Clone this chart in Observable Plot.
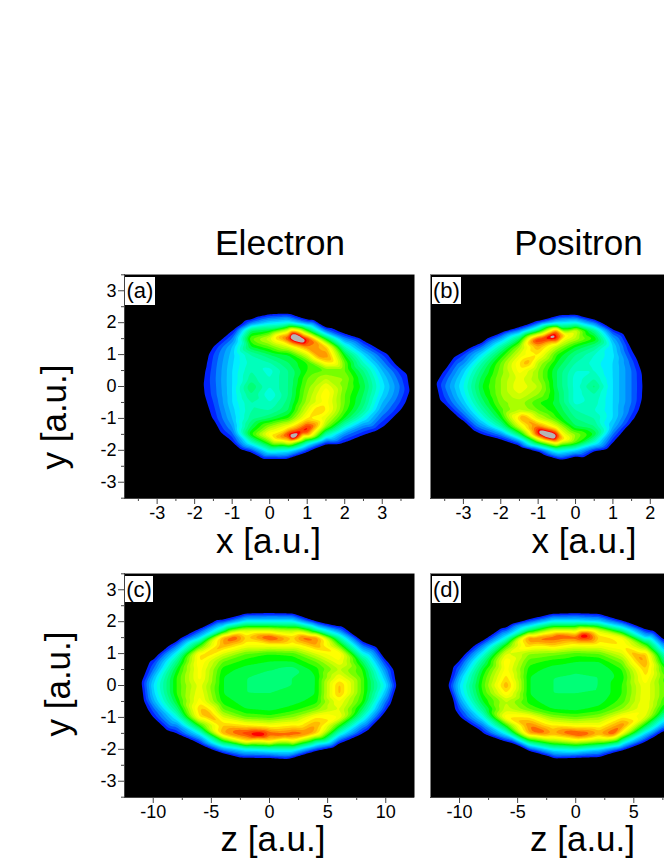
<!DOCTYPE html>
<html>
<head>
<meta charset="utf-8">
<script src="https://cdn.jsdelivr.net/npm/d3@7"></script>
<script src="https://cdn.jsdelivr.net/npm/@observablehq/plot@0.6"></script>
<style>
html,body{margin:0;padding:0;background:#fff;overflow:hidden;width:664px;height:860px}
#page{position:relative;width:664px;height:860px;overflow:hidden;font-family:"Liberation Sans",Arial,sans-serif;color:#000}
#page svg{position:absolute;background:transparent;overflow:visible}
.t{position:absolute;white-space:nowrap;line-height:.75;transform:translate(-50%,-50%)}
.r{transform:translate(-50%,-50%) rotate(-90deg)}
.box{position:absolute;background:#fff;font-size:22px;line-height:27px;text-align:center}
</style>
</head>
<body>
<div id="page"></div>
<script>
// Density levels; each list is one column, from y = 2.5 down to y = -2.5.
const yRows = [2.5,2.25,2,1.75,1.5,1.25,1,.75,.5,.25,0,-.25,-.5,-.75,-1,-1.25,-1.5,-1.75,-2,-2.25,-2.5];

const xColsA = [-2,-1.5,-1,-.5,0,.5,1,1.5,2,2.5,3,3.5,4];
const levelsA = [
[-3,-3,-3,-3,-3,-3,-2,-1.5,-1,-.6,-.4,-.6,-1,-1.5,-2,-3,-3,-3,-3,-3,-3],
[-3,-3,-3,-3,-1,1,2,2.3,2.5,2.6,2.5,2.4,2,1.6,1.2,-.5,-2,-3,-3,-3,-3],
[-3,-3,-2,1,3,5,5.5,5.8,6,6,6,6,6,5.5,5,4,2.5,.8,-2,-3,-3],
[-3,-2,3,11,14,12,9,8.5,9,9.5,11,10,9,9,9.5,11,13,8,2,-2,-3],
[-3,1.2,6,12,17,14,11,9,7.5,8,8,7,8,9,11,15,19,14,8,1.2,-3],
[-3,1.5,7,17,24,17,12,11,10,10,10,10,10.5,11,13,18,24.5,18,7,.9,-3],
[-3,-2,3,13,24,22,17,13,13,14,14.5,15,15.5,17,19,24,22,9,1.5,-3,-3],
[-3,-3,-2,3,12,20,22,19,14,16,18,19,18.5,19,17,15,9,2,-2,-3,-3],
[-3,-3,-3,-.5,3.5,8,12,14,14,15,14.5,14,14,13.5,12,8,3.5,1.1,-3,-3,-3],
[-3,-3,-3,-3,.2,3,6,8,10,11,11.5,11,10.5,9.5,7,3.5,1.2,-1.5,-3,-3,-3],
[-3,-3,-3,-3,-3,-.5,2,3.5,5,6,6.5,6,5,4,2.5,1.3,-1,-3,-3,-3,-3],
[-3,-3,-3,-3,-3,-3,-2,-.5,1.3,2.2,2.8,2.5,1.8,.9,-1,-2,-3,-3,-3,-3,-3],
[-3,-3,-3,-3,-3,-3,-3,-3,-2,-1.5,-.8,-1,-1.5,-2,-3,-3,-3,-3,-3,-3,-3]
];
const peaksA = [[.62,1.6,28],[.73,1.53,29],[.82,1.46,28],[.62,-1.59,28],[.95,1.38,24.5],[.85,-1.4,24.7],[1.05,-1.3,24.5],[1.3,-.75,20.5],[1.35,.95,22],[1.6,.85,21],[.25,1.55,21],[.2,-1.6,21]];
const edgeA = [[-.92,1.81],[-.34,2.18],[.33,2.28],[1.17,2.07],[2.42,1.5],[3.13,1.03],[3.66,.4],[3.73,-.13],[3.3,-.96],[2.86,-1.38],[1.88,-1.8],[1,-2.06],[.46,-2.27],[-.16,-2.27],[-.78,-1.96],[-1.32,-1.43],[-1.63,-.65],[-1.76,.08]];

const xColsB = [-4,-3.5,-3,-2.5,-2,-1.5,-1,-.5,0,.5,1,1.5,2];
const levelsB = [
[-3,-3,-3,-3,-3,-3,-3,-3,-2,-1.5,-1,-1.5,-2,-3,-3,-3,-3,-3,-3,-3,-3],
[-3,-3,-3,-3,-3,-3,-3,-1,1.1,2.3,3,2.3,1.4,-.5,-2,-3,-3,-3,-3,-3,-3],
[-3,-3,-3,-3,-3,-1,2,3.5,5.5,6.5,7,6.5,5.5,4,1.8,-1,-3,-3,-3,-3,-3],
[-3,-3,-3,-3,-1,3,6.5,9,10.5,11.5,12,11.5,10.5,9,7,4,1,-2,-3,-3,-3],
[-3,-3,-3,-.5,4.5,9,12,14,14.5,15,15,15,14.5,13.5,12,9,3.5,-.5,-3,-3,-3],
[-3,-3,-2,3.5,11,15,17,19,18.5,17.5,18,17,15.5,16,20,17,11,3,-2,-3,-3],
[-3,-3,2,11,24,21,19,16,15,15,16,15,13,14,16.5,22,24.5,13,1.5,-3,-3],
[-3,0,6,22,24.5,16,13,12,11,11,11,11.5,11.5,12,13,17,24.5,20,8,1.2,-3],
[-3,.8,7,17,16,12,10,9,8,7.5,7.5,7.5,7.5,9,10,11,15,14,6,-.5,-3],
[-3,-2,3,10,13,10,8,7.5,8,9,10.5,9,8.5,8,9,10,12,8,1.5,-3,-3],
[-3,-3,-2,1.5,4.5,6,6.3,6,6,6,6,6,6,6,6,5,3,1,-2,-3,-3],
[-3,-3,-3,-3,-2,.6,1.5,2.5,3,3,3,3,3,2.5,1.5,-.3,-2,-3,-3,-3,-3],
[-3,-3,-3,-3,-3,-3,-2,-1.5,-1,-.6,-.45,-.6,-1,-1.5,-2,-3,-3,-3,-3,-3,-3]
];
const peaksB = [[-.62,1.57,27],[-.85,-1.47,28],[-.71,-1.54,29],[-.58,-1.6,28],[-1.3,.75,21],[-1.05,1.45,24.7],[-.85,1.5,24.7],[-1,-1.35,24.5],[-1.45,-.95,21.5],[-.25,1.6,19],[-.3,-1.65,19.5]];
const edgeB = [[-3.26,.92],[-2.37,1.5],[-1.03,2.07],[1.29,1.65],[1.65,.82],[1.47,-1.17],[.85,-1.96],[.22,-2.22],[-1.47,-1.9],[-2.72,-1.38],[-3.62,-.44],[-3.72,.1],[1.79,0],[-.4,2.23],[-.36,-2.29]];

const zColsC = [-12,-10,-8,-6,-4,-2,0,2,4,6,8,10,12];
const levelsC = [
[-4,-4,-4,-4,-4,-4,-4,-4,-4,-4,-4,-4,-4,-4,-4,-4,-4,-4,-4,-4,-4],
[-3,-3,-3,-3,-3,-3,-1,1.5,3,5,6,5.5,4.5,2.5,1,-2,-3,-3,-3,-3,-3],
[-3,-3,-3,-3,-1,3,7,10,12,13,13,13,12,10,7,3.5,1,-3,-3,-3,-3],
[-3,-3,-3,1.5,6,13,19,19,18.5,18.5,17.5,18,18.5,20,19,13,7,2,-2,-3,-3],
[-3,-2,2,9,21,21,17,14,12.5,12,12,12,12.5,14,17,20,21,12,4,-2,-3],
[-3,1,7,16,20,18,14,12.5,11.5,11,11,11,11.5,12,14,19,24,19,7,1.2,-3],
[-3,1.3,7,16,24,18,13,12,11,10.8,10.8,11,11.3,11.7,13.5,18,23,19,8,1.3,-3],
[-3,1,7,15,20,18,13.5,12,10.5,11,11,11.3,11.6,12.5,15,19,23,18,8,1.2,-3],
[-3,-3,1,9,22,21,17,14,12.5,12,12,12,12.5,14.5,19,21,20,10,2,-3,-3],
[-3,-3,-2,3,9,14,19,18,16,18,20.5,20.5,18,17,18,13,8,2,-2,-3,-3],
[-3,-3,-3,-3,-1,3,7,11,13,13.5,13.5,13.5,13,11,8,4,1,-2,-3,-3,-3],
[-3,-3,-3,-3,-3,-3,-1.5,1.5,3.5,5,6.5,5,3,1.5,-1,-2,-3,-3,-3,-3,-3],
[-4,-4,-4,-4,-4,-4,-4,-4,-4,-4,-4,-4,-4,-4,-4,-4,-4,-4,-4,-4,-4]
];
const peaksC = [[-.8,-1.54,26],[-3.1,1.5,23.5],[3,1.5,23],[-5.4,-.9,21.5],[-5.8,.9,20],[3.2,-1.5,22.5],[1.4,-1.55,23]];
const edgeC = [[-10.26,.78],[-7.7,1.46],[-4.5,2.04],[6.07,1.88],[9.2,1.2],[10.9,0],[10.4,-.57],[8.4,-1.41],[5.5,-1.93],[1.5,-2.3],[-2.5,-2.25],[-6,-1.83],[-8.8,-1.41],[-10.8,-.47],[-11,.1]];

const zColsD = [-12,-10,-8,-6,-4,-2,0,2,4,6,8];
const levelsD = [
[-4,-4,-4,-4,-4,-4,-4,-4,-4,-4,-4,-4,-4,-4,-4,-4,-4,-4,-4,-4,-4],
[-3,-3,-3,-3,-3,-3,-1,1.2,3,5,6,5.5,4,2.2,.7,-2,-3,-3,-3,-3,-3],
[-3,-3,-3,-3,-.5,3.5,7,10,12,13,13.5,13,12,10,7,3.5,.8,-2,-3,-3,-3],
[-3,-3,-2,2,7,13,17,19,18.5,19.5,21,19,16,16.5,19,13,7,1,-2.5,-3,-3],
[-3,-2,2.5,10,22,20,15,13.5,12.5,12,12,12,12.5,14,19,22,21,11,2,-3,-3],
[-3,.8,7,16,23,20,14.5,12.5,11.5,11,11,11,11.2,12,15,19,21,15,7,.9,-3],
[-3,1.2,7,16,23,18,13.5,12,11.2,10.8,10.8,11,11.3,11.7,14,18,24,17,8,1.2,-3],
[-3,.8,6,16,20,18,14,12,11,11,11,11,11.5,12.5,15,18,21,15,6,.8,-3],
[-3,-3,1.5,9,18,19,17,14.5,13,12.5,13,13,13.5,15,19,22,18,9,1.5,-3,-3],
[-3,-3,-2,1,6,14,20,21,20,19,18,18,18,18,17,12,6,1,-2,-3,-3],
[-3,-3,-3,-3,-1,1.5,5,8,11,12.5,13,13,12,10,6,2,-1,-3,-3,-3,-3]
];
const peaksD = [[.7,1.57,26],[-1.5,1.55,23.5],[-3.5,1.45,22.5],[.3,-1.53,24],[-3.2,-1.45,23.5],[3.2,-1.5,23.5],[5.4,.9,21.5]];
const edgeD = [[-10.95,0],[-9.95,.8],[-6.35,1.8],[-10.5,-.45],[-8.2,-1.39],[-5.3,-1.8],[-1.9,-2.28],[2.1,-2.22],[6.7,-1.6],[6.7,1.7]];

const levelThresholds = d3.range(1,26);
const levelColors = ["#000000","#0022ff","#0055ff","#0088ff","#00aaff","#00ccff","#00eeff","#00ffdd","#00ffbb","#00ff99","#00ff77","#00ff44","#00ff00","#44ff00","#77ff00","#aaff00","#ccff00","#eeff00","#ffff00","#ffdd00","#ffbb00","#ff9900","#ff6600","#ff4400","#ff0000","#b4b4b4"];

const yMajor = [-3,-2,-1,0,1,2,3];
const yMinor = [-3.5,-2.5,-1.5,-.5,.5,1.5,2.5,3.5];
const xMajor = [-3,-2,-1,0,1,2,3];
const xMinor = [-3.5,-2.5,-1.5,-.5,.5,1.5,2.5,3.5];
const zMajor = [-10,-5,0,5,10];
const zMinor = [-12.5,-7.5,-2.5,2.5,7.5,12.5];

const page = document.getElementById("page");
const points = (cols, levels, peaks, edge) =>
  cols.flatMap((x,i) => yRows.map((y,j) => ({x, y, v: levels[i][j]})))
      .concat(peaks.map(([x,y,v]) => ({x,y,v})))
      .concat(edge.map(([x,y]) => ({x,y,v:1})));

function panel({cols, levels, peaks, edge, domain, major, minor, left, right, top, bottom, yAxis}) {
  const ml = yAxis ? 40 : 1, mt = 5, mb = 32;
  const chart = Plot.plot({
    width: right - left + ml, height: bottom - top + mt + mb,
    marginLeft: ml, marginRight: 0, marginTop: mt, marginBottom: mb,
    style: {background: "transparent", fontFamily: '"Liberation Sans",Arial,sans-serif'},
    x: {domain, axis: null}, y: {domain: [-3.51,3.51], axis: null},
    color: {type: "threshold", domain: levelThresholds, range: levelColors},
    marks: [
      Plot.frame({fill: "#000", stroke: null}),
      Plot.contour(points(cols, levels, peaks, edge), {x:"x", y:"y", value:"v", fill:"value", interpolate:"barycentric", thresholds: levelThresholds, pixelSize:1, blur:1, clip:true}),
      Plot.ruleY([3.51], {stroke:"#888"}),
      Plot.ruleY([-3.51], {stroke:"#444"}),
      Plot.axisX({ticks: major, tickSize: 6, tickPadding: 2, fontSize: 18, label: null, stroke:"#444", color:"#000", tickFormat: d => `${d}`, anchor:"bottom"}),
      Plot.axisX({ticks: minor.filter(t => t > domain[0] && t < domain[1]), tickSize: 3, label: null, stroke:"#444", tickFormat: () => "", anchor:"bottom"}),
      ...(yAxis ? [
        Plot.ruleX([domain[0]], {stroke:"#444"}),
        Plot.axisY({ticks: yMajor, tickSize: 6, tickPadding: 2, fontSize: 18, label: null, stroke:"#444", color:"#000", tickFormat: d => `${d}`, anchor:"left"}),
        Plot.axisY({ticks: yMinor.filter(t => Math.abs(t) < 3.51), tickSize: 3, label: null, stroke:"#444", tickFormat: () => "", anchor:"left"})
      ] : [])
    ]
  });
  chart.querySelectorAll("text").forEach(t => { if (!t.textContent.trim()) t.remove(); });
  chart.style.left = (left - ml) + "px";
  chart.style.top = (top - mt) + "px";
  page.appendChild(chart);
}

panel({cols:xColsA, levels:levelsA, peaks:peaksA, edge:edgeA, domain:[-3.87,3.86], major:xMajor, minor:xMinor, left:124, right:414, top:274, bottom:498, yAxis:true});
panel({cols:xColsB, levels:levelsB, peaks:peaksB, edge:edgeB, domain:[-3.88,2.38], major:xMajor.filter(d=>d<=2), minor:xMinor, left:430, right:664, top:274, bottom:498, yAxis:false});
panel({cols:zColsC, levels:levelsC, peaks:peaksC, edge:edgeC, domain:[-12.47,12.47], major:zMajor, minor:zMinor, left:124, right:414, top:573, bottom:797, yAxis:true});
panel({cols:zColsD, levels:levelsD, peaks:peaksD, edge:edgeD, domain:[-12.5,7.64], major:zMajor.filter(d=>d<=5), minor:zMinor, left:430, right:664, top:573, bottom:797, yAxis:false});

function label(text, x, y, size, rot) {
  const d = document.createElement("div");
  d.className = "t" + (rot ? " r" : "");
  d.textContent = text;
  d.style.left = x + "px"; d.style.top = y + "px"; d.style.fontSize = size + "px";
  page.appendChild(d);
}
label("Electron", 280, 243, 35.5);
label("Positron", 578.5, 243, 35);
label("x [a.u.]", 268.5, 541, 35);
label("x [a.u.]", 584, 541, 35);
label("z [a.u.]", 273, 839, 35);
label("z [a.u.]", 582.5, 839, 35);
label("y [a.u.]", 54, 417, 35, true);
label("y [a.u.]", 58, 684, 35, true);

function tag(text, l, t, w, h) {
  const d = document.createElement("div");
  d.className = "box"; d.textContent = text;
  d.style.cssText += `left:${l}px;top:${t}px;width:${w}px;height:${h}px;`;
  page.appendChild(d);
}
tag("(a)", 125, 277, 30, 28);
tag("(b)", 432, 277, 29, 27);
tag("(c)", 125, 576, 28, 26);
tag("(d)", 432, 576, 29, 27);
</script>
</body>
</html>
